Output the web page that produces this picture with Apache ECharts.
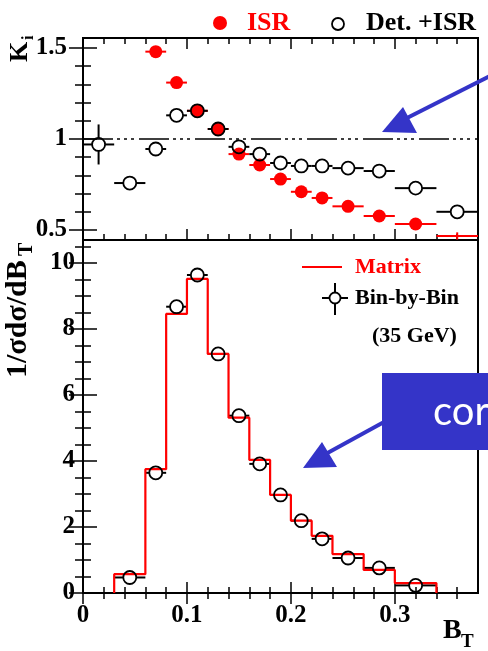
<!DOCTYPE html>
<html><head><meta charset="utf-8">
<script src="https://cdn.jsdelivr.net/npm/echarts@6/dist/echarts.min.js"></script>
<style>html,body{margin:0;padding:0;background:#fff}#c{width:488px;height:651px}</style>
</head><body><div id="c"></div>
<script>
// ---------- data ----------
// Top panel: correction factors K_i per B_T bin
const kBinLo = [0, 0.03, 0.06, 0.08, 0.10, 0.12, 0.14, 0.16, 0.18, 0.20, 0.22, 0.24, 0.27, 0.30, 0.34];
const kBinHi = [0.03, 0.06, 0.08, 0.10, 0.12, 0.14, 0.16, 0.18, 0.20, 0.22, 0.24, 0.27, 0.30, 0.34, 0.38];
const kX     = [0.015, 0.045, 0.07, 0.09, 0.11, 0.13, 0.15, 0.17, 0.19, 0.21, 0.23, 0.255, 0.285, 0.32, 0.36];
const isrK    = [null, null, 1.48, 1.31, 1.155, 1.055, 0.917, 0.857, 0.78, 0.71, 0.676, 0.63, 0.577, 0.533, 0.467];
const isrKErr = [null, null, 0.02, 0.02, 0.02, 0.02, 0.02, 0.02, 0.02, 0.02, 0.02, 0.02, 0.02, 0.02, 0.02];
const detK    = [0.97, 0.758, 0.945, 1.13, 1.155, 1.055, 0.957, 0.917, 0.868, 0.852, 0.852, 0.84, 0.824, 0.73, 0.60];
const detKErr = [0.11, 0.015, 0.015, 0.015, 0.015, 0.015, 0.015, 0.015, 0.015, 0.015, 0.015, 0.015, 0.015, 0.015, 0.015];
const refLine = 1;

// Bottom panel: 1/sigma dsigma/dB_T
const dBinLo = [0.03, 0.06, 0.08, 0.10, 0.12, 0.14, 0.16, 0.18, 0.20, 0.22, 0.24, 0.27, 0.30];
const dBinHi = [0.06, 0.08, 0.10, 0.12, 0.14, 0.16, 0.18, 0.20, 0.22, 0.24, 0.27, 0.30, 0.34];
const dX     = [0.045, 0.07, 0.09, 0.11, 0.13, 0.15, 0.17, 0.19, 0.21, 0.23, 0.255, 0.285, 0.32];
const matrixVals   = [0.57, 3.75, 8.45, 9.51, 7.24, 5.31, 4.03, 2.97, 2.19, 1.73, 1.18, 0.70, 0.30];
const binByBinVals = [0.47, 3.64, 8.67, 9.63, 7.24, 5.37, 3.91, 2.97, 2.19, 1.64, 1.06, 0.76, 0.23];
const binByBinErr  = [0.05, 0.08, 0.12, 0.12, 0.1, 0.08, 0.06, 0.05, 0.05, 0.04, 0.04, 0.03, 0.03];

// tick labels
const xTickLabels = [0, 0.1, 0.2, 0.3];
const yTopTicks = [0.5, 1, 1.5];
const yBotTicks = [0, 2, 4, 6, 8, 10];

// ---------- helpers ----------
const SERIF = "'Liberation Serif','DejaVu Serif',serif";
const RED = '#ff0000', BLUE = '#3434c8';
function steps(a, b, st, skip) {
  const out = [];
  for (let v = a; v <= b + 1e-9; v += st) {
    const r = Math.round(v * 1000) / 1000;
    if (!skip.some(s => Math.abs(s - r) < 1e-6)) out.push(r);
  }
  return out;
}
const xMinor = steps(0.02, 0.36, 0.02, xTickLabels);
const yTopMinor = steps(0.5, 1.5, 0.1, yTopTicks);
const yBotMinor = steps(0.5, 10.5, 0.5, yBotTicks);

const X_MIN = 0, X_MAX = 0.38;
const labelStyle = {color: '#000', fontFamily: SERIF, fontWeight: 'bold', fontSize: 25};

function axis(kind, grid, pos, min, max, vals, len, label, margin) {
  return {
    type: 'value', gridIndex: grid, position: pos, min: min, max: max,
    axisLine: {show: false}, splitLine: {show: false},
    axisTick: {show: true, inside: true, length: len, customValues: vals, lineStyle: {color: '#000', width: 1.5}},
    axisLabel: label ? Object.assign({show: true, customValues: vals, margin: margin}, labelStyle) : {show: false, customValues: vals}
  };
}
const TOP_MIN = 0.445, TOP_MAX = 1.555, BOT_MIN = 0, BOT_MAX = 10.69;
const xAxes = [
  axis('x', 0, 'bottom', X_MIN, X_MAX, xTickLabels, 11, false),
  axis('x', 0, 'bottom', X_MIN, X_MAX, xMinor, 6, false),
  axis('x', 0, 'top', X_MIN, X_MAX, xTickLabels, 11, false),
  axis('x', 0, 'top', X_MIN, X_MAX, xMinor, 6, false),
  axis('x', 1, 'bottom', X_MIN, X_MAX, xTickLabels, 11, true, 10),
  axis('x', 1, 'bottom', X_MIN, X_MAX, xMinor, 6, false),
  axis('x', 1, 'top', X_MIN, X_MAX, xTickLabels, 11, false),
  axis('x', 1, 'top', X_MIN, X_MAX, xMinor, 6, false)
];
const yAxes = [
  axis('y', 0, 'left', TOP_MIN, TOP_MAX, yTopTicks, 14, true, 16),
  axis('y', 0, 'left', TOP_MIN, TOP_MAX, yTopMinor, 8, false),
  axis('y', 0, 'right', TOP_MIN, TOP_MAX, yTopTicks, 14, false),
  axis('y', 0, 'right', TOP_MIN, TOP_MAX, yTopMinor, 8, false),
  axis('y', 1, 'left', BOT_MIN, BOT_MAX, yBotTicks, 14, true, 8),
  axis('y', 1, 'left', BOT_MIN, BOT_MAX, yBotMinor, 8, false),
  axis('y', 1, 'right', BOT_MIN, BOT_MAX, yBotTicks, 14, false),
  axis('y', 1, 'right', BOT_MIN, BOT_MAX, yBotMinor, 8, false)
];

// error bar renderer with gap around marker
function errRender(color, gap) {
  return function (params, api) {
    const lo = api.value(0), hi = api.value(1), x = api.value(2), y = api.value(3), e = api.value(4);
    const pL = api.coord([lo, y]), pR = api.coord([hi, y]), pC = api.coord([x, y]);
    const pT = api.coord([x, y + e]), pB = api.coord([x, y - e]);
    const st = {stroke: color, lineWidth: 2};
    const ch = [];
    if (pC[0] - gap > pL[0]) ch.push({type: 'line', shape: {x1: pL[0], y1: pC[1], x2: pC[0] - gap, y2: pC[1]}, style: st});
    if (pR[0] > pC[0] + gap) ch.push({type: 'line', shape: {x1: pC[0] + gap, y1: pC[1], x2: pR[0], y2: pC[1]}, style: st});
    if (pC[1] - gap > pT[1]) ch.push({type: 'line', shape: {x1: pC[0], y1: pT[1], x2: pC[0], y2: pC[1] - gap}, style: st});
    if (pB[1] > pC[1] + gap) ch.push({type: 'line', shape: {x1: pC[0], y1: pC[1] + gap, x2: pC[0], y2: pB[1]}, style: st});
    return {type: 'group', children: ch};
  };
}

const isrErrData = [], isrMarkers = [];
kX.forEach((x, i) => {
  if (isrK[i] == null) return;
  isrErrData.push([kBinLo[i], kBinHi[i], x, isrK[i], isrKErr[i]]);
  // the lowest point sits at the frame edge: only its bars are drawn
  if (isrK[i] >= 0.5) isrMarkers.push([x, isrK[i]]);
});
const detErrData = kX.map((x, i) => [kBinLo[i], kBinHi[i], x, detK[i], detKErr[i]]);
const detMarkers = kX.map((x, i) => [x, detK[i]]);

const stepData = [[dBinLo[0], 0]];
matrixVals.forEach((v, i) => { stepData.push([dBinLo[i], v]); stepData.push([dBinHi[i], v]); });
stepData.push([dBinHi[dBinHi.length - 1], 0]);
const bbbErrData = dX.map((x, i) => [dBinLo[i], dBinHi[i], x, binByBinVals[i], binByBinErr[i]]);
const bbbMarkers = dX.map((x, i) => [x, binByBinVals[i]]);

const chart = echarts.init(document.getElementById('c'), null, {renderer: 'canvas'});
chart.setOption({
  backgroundColor: '#fff',
  animation: false,
  grid: [
    {left: 83, top: 38, width: 395, height: 202, show: true, borderColor: '#000', borderWidth: 2, backgroundColor: 'transparent'},
    {left: 83, top: 240, width: 395, height: 353, show: true, borderColor: '#000', borderWidth: 2, backgroundColor: 'transparent'}
  ],
  xAxis: xAxes,
  yAxis: yAxes,
  series: [
    {type: 'line', xAxisIndex: 0, yAxisIndex: 0, data: [[X_MIN, refLine], [X_MAX, refLine]], symbol: 'none',
     lineStyle: {color: '#000', width: 1.5, type: [30, 4, 3, 4, 3, 4, 3, 5]}, z: 1},
    {type: 'custom', xAxisIndex: 0, yAxisIndex: 0, data: isrErrData, renderItem: errRender(RED, 0), z: 3},
    {type: 'scatter', xAxisIndex: 0, yAxisIndex: 0, data: isrMarkers, symbol: 'circle', symbolSize: 13,
     itemStyle: {color: RED, opacity: 1}, z: 4},
    {type: 'custom', xAxisIndex: 0, yAxisIndex: 0, data: detErrData, renderItem: errRender('#000', 6.5), z: 5},
    {type: 'scatter', xAxisIndex: 0, yAxisIndex: 0, data: detMarkers, symbol: 'circle', symbolSize: 13,
     itemStyle: {color: 'rgba(0,0,0,0)', borderColor: '#000', borderWidth: 1.8, opacity: 1}, z: 6},
    {type: 'line', xAxisIndex: 4, yAxisIndex: 4, data: stepData, symbol: 'none',
     lineStyle: {color: RED, width: 2.2}, z: 3},
    {type: 'custom', xAxisIndex: 4, yAxisIndex: 4, data: bbbErrData, renderItem: errRender('#000', 6.5), z: 2},
    {type: 'scatter', xAxisIndex: 4, yAxisIndex: 4, data: bbbMarkers, symbol: 'circle', symbolSize: 13,
     itemStyle: {color: 'rgba(0,0,0,0)', borderColor: '#000', borderWidth: 1.8, opacity: 1}, z: 6}
  ],
  graphic: [
    // top legend
    {type: 'circle', shape: {cx: 220, cy: 23, r: 7}, style: {fill: RED}},
    {type: 'text', x: 247, y: 23, style: {text: 'ISR', fill: RED, font: 'bold 26px ' + SERIF, textVerticalAlign: 'middle'}},
    {type: 'circle', shape: {cx: 338, cy: 24, r: 6}, style: {fill: 'none', stroke: '#000', lineWidth: 1.8}},
    {type: 'text', x: 366, y: 23, style: {text: 'Det. +ISR', fill: '#000', font: 'bold 26px ' + SERIF, textVerticalAlign: 'middle'}},
    // bottom legend
    {type: 'line', shape: {x1: 302, y1: 267, x2: 342, y2: 267}, style: {stroke: RED, lineWidth: 2}},
    {type: 'text', x: 355, y: 267, style: {text: 'Matrix', fill: RED, font: 'bold 22px ' + SERIF, textVerticalAlign: 'middle'}},
    {type: 'circle', shape: {cx: 335, cy: 298, r: 5.5}, style: {fill: 'none', stroke: '#000', lineWidth: 1.8}},
    {type: 'line', shape: {x1: 322, y1: 298, x2: 329.5, y2: 298}, style: {stroke: '#000', lineWidth: 2}},
    {type: 'line', shape: {x1: 340.5, y1: 298, x2: 348, y2: 298}, style: {stroke: '#000', lineWidth: 2}},
    {type: 'line', shape: {x1: 335, y1: 283, x2: 335, y2: 292.5}, style: {stroke: '#000', lineWidth: 2}},
    {type: 'line', shape: {x1: 335, y1: 303.5, x2: 335, y2: 315}, style: {stroke: '#000', lineWidth: 2}},
    {type: 'text', x: 355, y: 298, style: {text: 'Bin-by-Bin', fill: '#000', font: 'bold 22px ' + SERIF, textVerticalAlign: 'middle'}},
    {type: 'text', x: 372, y: 336, style: {text: '(35 GeV)', fill: '#000', font: 'bold 22px ' + SERIF, textVerticalAlign: 'middle'}},
    // axis titles
    {type: 'group', x: 20, y: 52, rotation: Math.PI / 2, children: [
      {type: 'text', x: 0, y: 0, style: {text: 'K', fill: '#000', font: 'bold 26px ' + SERIF, textAlign: 'center', textVerticalAlign: 'middle'}},
      {type: 'text', x: 12, y: 9, style: {text: 'i', fill: '#000', font: 'bold 16px ' + SERIF, textAlign: 'left', textVerticalAlign: 'middle'}}
    ]},
    {type: 'group', x: 18, y: 378, rotation: Math.PI / 2, children: [
      {type: 'text', x: 0, y: 0, style: {text: '1/σdσ/dB', fill: '#000', font: 'bold 30px ' + SERIF, textAlign: 'left', textVerticalAlign: 'middle'}},
      {type: 'text', x: 122, y: 9, style: {text: 'T', fill: '#000', font: 'bold 20px ' + SERIF, textAlign: 'left', textVerticalAlign: 'middle'}}
    ]},
    {type: 'text', x: 443, y: 631, style: {text: 'B', fill: '#000', font: 'bold 28px ' + SERIF, textVerticalAlign: 'middle'}},
    {type: 'text', x: 461, y: 642, style: {text: 'T', fill: '#000', font: 'bold 19px ' + SERIF, textVerticalAlign: 'middle'}},
    // blue annotations
    {type: 'line', shape: {x1: 490, y1: 76, x2: 405, y2: 119}, style: {stroke: BLUE, lineWidth: 4}, z: 100},
    {type: 'polygon', shape: {points: [[382, 132], [403, 107], [417, 133]]}, style: {fill: BLUE}, z: 100},
    {type: 'rect', shape: {x: 382, y: 373, width: 110, height: 77}, style: {fill: BLUE}, z: 100},
    {type: 'text', x: 433, y: 412, style: {text: 'cor', fill: '#fff', font: '40px Lato, "DejaVu Sans", sans-serif', textVerticalAlign: 'middle'}, z: 101},
    {type: 'line', shape: {x1: 384, y1: 422, x2: 322, y2: 456}, style: {stroke: BLUE, lineWidth: 4}, z: 100},
    {type: 'polygon', shape: {points: [[303, 468], [322, 442], [337, 467]]}, style: {fill: BLUE}, z: 100}
  ]
});
</script></body></html>
